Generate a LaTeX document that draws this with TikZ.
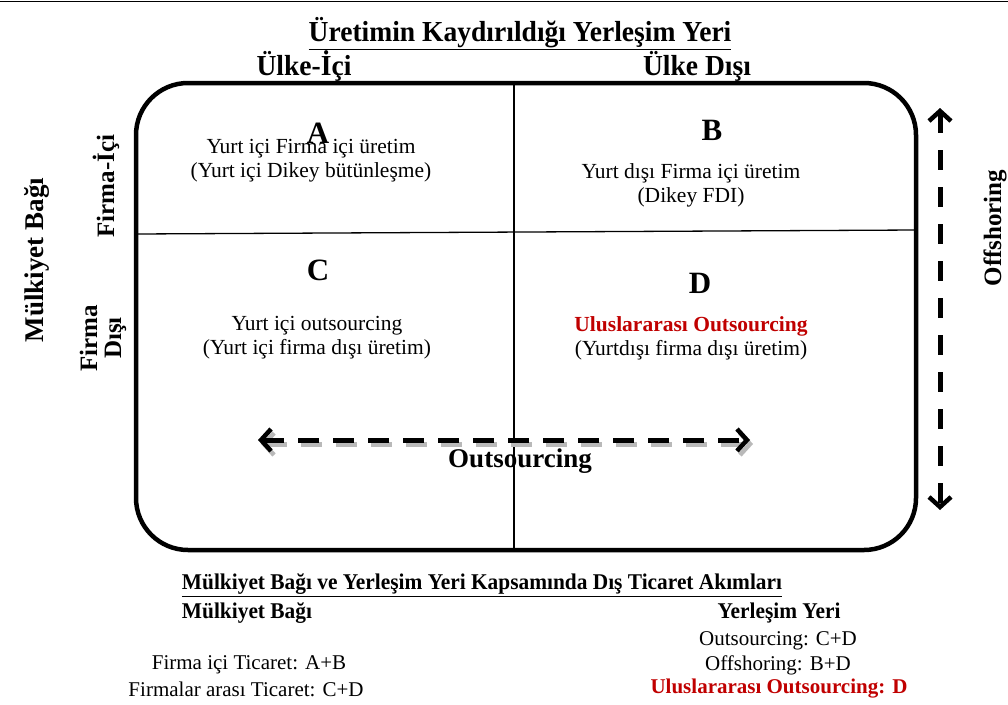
\documentclass[tikz,border=0pt]{standalone}
\usepackage{fontspec}
\setmainfont{Liberation Serif}
\usepackage{graphicx}
\usetikzlibrary{arrows.meta}

\definecolor{koyukirmizi}{RGB}{192,0,0}
\newcommand{\dar}[1]{\scalebox{0.95}[1]{#1}}

\tikzset{
  metin/.style  = {inner sep=0pt, align=center, font=\fontsize{21.5}{24}\selectfont},
  harf/.style   = {inner sep=0pt, font=\fontsize{31}{32}\selectfont\bfseries},
  baslik/.style = {inner sep=0pt, align=center, font=\fontsize{25}{27}\selectfont\bfseries},
  ubaslik/.style= {inner sep=0pt, align=center, font=\fontsize{29}{31}\selectfont\bfseries},
  kucuk/.style  = {inner sep=0pt, align=center, font=\fontsize{21}{24}\selectfont},
  kbaslik/.style= {inner sep=0pt, align=center, font=\fontsize{22.5}{25}\selectfont\bfseries},
  okcizgi/.style= {line width=5pt, dash pattern=on 21pt off 14pt,
                   {Straight Barb[length=10pt,width=22pt,line width=4.5pt]}-{Straight Barb[length=10pt,width=22pt,line width=4.5pt]}}
}

\begin{document}
\begin{tikzpicture}[x=1pt,y=-1pt]
\useasboundingbox (0,0) rectangle (1008,704);
\draw[line width=1.5pt] (0,1.5) -- (1008,1.5);

% le cadre
\draw[line width=4.5pt, rounded corners=52pt] (136,83) rectangle (916,550);
\draw[line width=1.3pt] (514,83) -- (514,550);
\draw[line width=1.3pt] (136,234) -- (916,230);

% les titres
\node[ubaslik] (T) at (520,34) {\dar{\underline{Üretimin Kaydırıldığı Yerleşim Yeri}}};
\node[ubaslik] (UI) at (304,66) {\dar{Ülke-İçi}};
\node[ubaslik] (UD) at (697,66) {\dar{Ülke Dışı}};
\node[baslik, font=\fontsize{27}{29}\selectfont\bfseries, rotate=90] (MB) at (37,260) {Mülkiyet Bağı};
\node[baslik, rotate=90] (FI) at (106,186) {Firma-İçi};
\node[baslik, rotate=90] (FD) at (103,338) {Firma\\[-3pt]Dışı};
\node[baslik, rotate=90] (OS) at (995,228) {Offshoring};

% les cases
\node[harf] (A) at (318,133) {A};
\node[metin] (a) at (311,161) {Yurt içi Firma içi üretim\\(Yurt içi Dikey bütünleşme)};
\node[harf] (B) at (712,130) {B};
\node[metin] (b) at (691,185) {Yurt dışı Firma içi üretim\\(Dikey FDI)};
\node[harf] (C) at (318,270) {C};
\node[metin] (c) at (317,338) {Yurt içi outsourcing\\(Yurt içi firma dışı üretim)};
\node[harf] (D) at (700,283) {D};
\node[metin] (d) at (691,338) {\textbf{\color{koyukirmizi}Uluslararası Outsourcing}\\(Yurtdışı firma dışı üretim)};

% les fleches
\coordinate (oG) at (258,440);
\coordinate (oD) at (750,440);
\coordinate (fU) at (940,108);
\coordinate (fA) at (940,510);
\draw[okcizgi, gray!55, transform canvas={xshift=3pt,yshift=-4pt}] (oG) -- (oD);
\draw[okcizgi] (oG) -- (oD);
\node[baslik, font=\fontsize{27}{29}\selectfont\bfseries] (OUT) at (520,461) {Outsourcing};
\draw[okcizgi, dash pattern=on 20pt off 17pt] (fU) -- (fA);

% le bas
\node[kbaslik] (AK) at (482,585) {\dar{\underline{Mülkiyet Bağı ve Yerleşim Yeri Kapsamında Dış Ticaret Akımları}}};
\node[kbaslik] (MB2) at (247,613) {\dar{Mülkiyet Bağı}};
\node[kbaslik] (YY) at (779,613) {\dar{Yerleşim Yeri}};
\node[kucuk] (m1) at (249,665) {Firma içi Ticaret: A+B};
\node[kucuk] (m2) at (246,689) {Firmalar arası Ticaret: C+D};
\node[kucuk] (y1) at (778,641) {Outsourcing: C+D};
\node[kucuk] (y2) at (778,665) {Offshoring: B+D};
\node[kucuk, font=\fontsize{21}{24}\selectfont\bfseries, text=koyukirmizi] (y3) at (779,689) {Uluslararası Outsourcing: D};
\end{tikzpicture}
\end{document}
